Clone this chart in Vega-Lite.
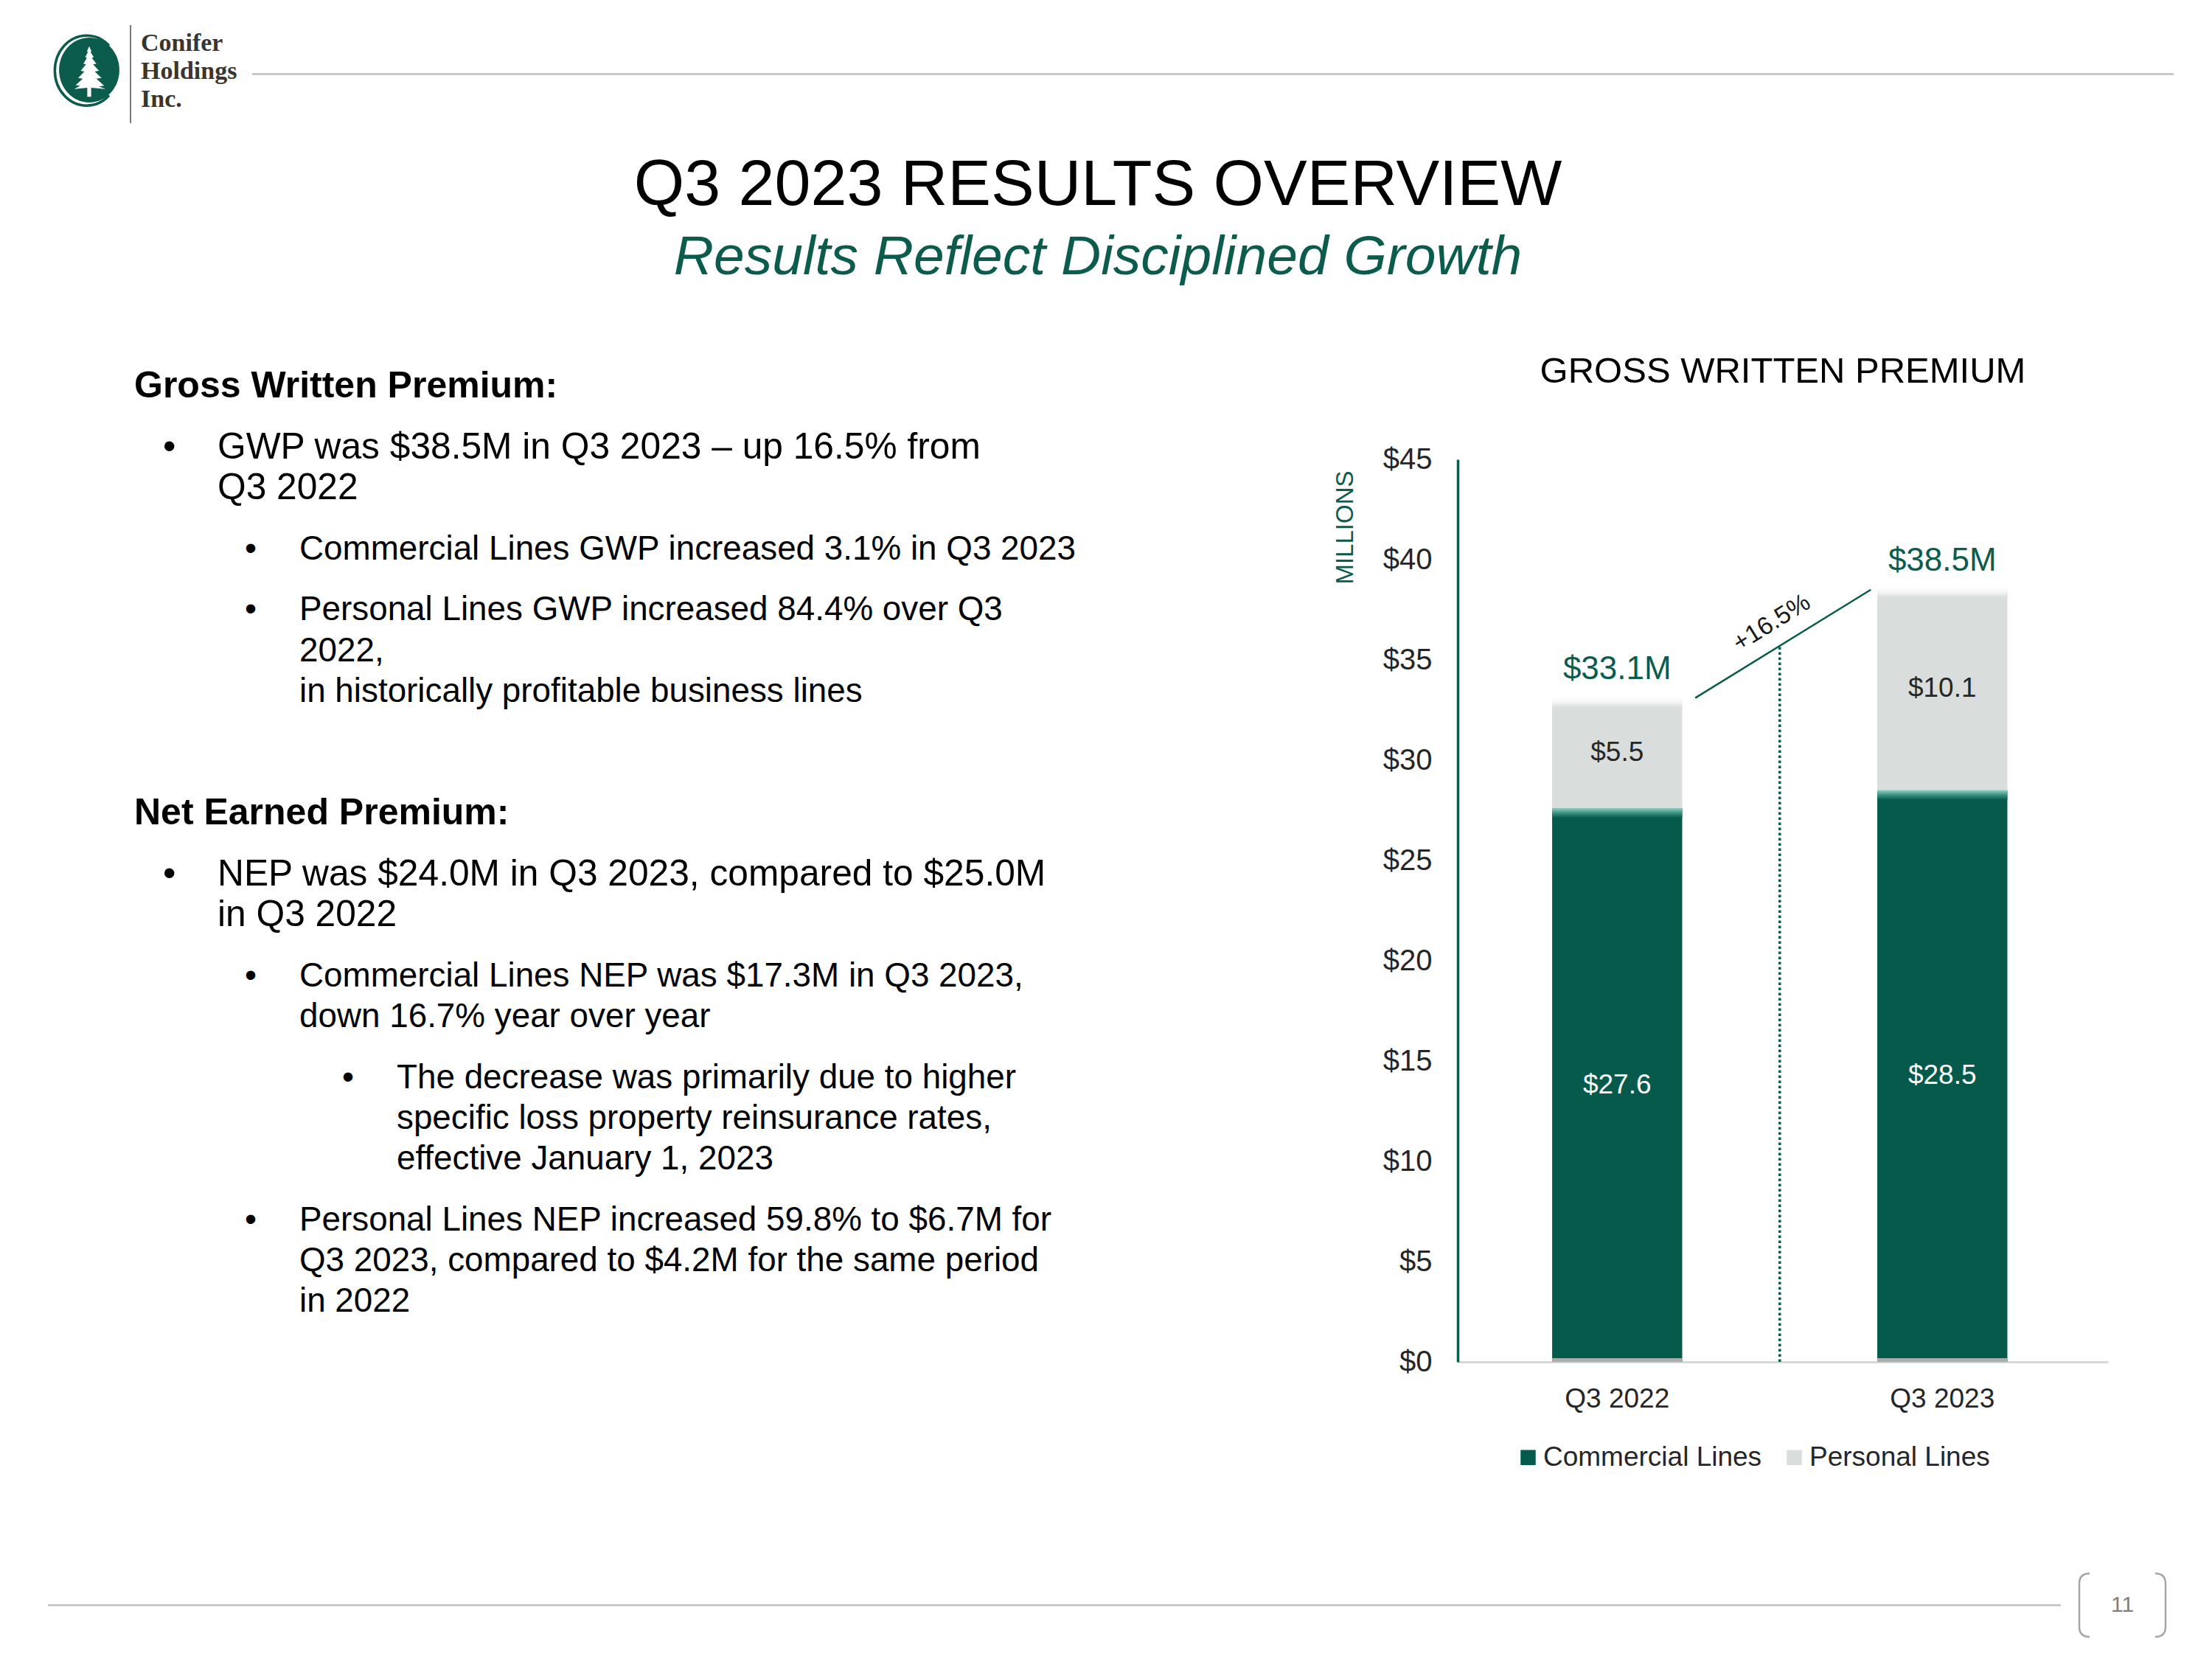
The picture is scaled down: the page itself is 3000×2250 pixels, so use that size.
{
  "$schema": "https://vega.github.io/schema/vega-lite/v6.json",
  "background": "white",
  "padding": {"left": 63, "top": 33, "right": 20, "bottom": 20},
  "config": {"view": {"stroke": null}, "font": "Liberation Sans"},
  "datasets": {
    "brand": [{"company": "Conifer\nHoldings\nInc."}],
    "notes": [
      {"row": 0, "level": 0, "bullet": false, "text": "Gross Written Premium:"},
      {"row": 3, "level": 1, "bullet": true, "text": "GWP was $38.5M in Q3 2023 – up 16.5% from"},
      {"row": 5, "level": 1, "bullet": false, "text": "Q3 2022"},
      {"row": 8, "level": 2, "bullet": true, "text": "Commercial Lines GWP increased 3.1% in Q3 2023"},
      {"row": 11, "level": 2, "bullet": true, "text": "Personal Lines GWP increased 84.4% over Q3"},
      {"row": 13, "level": 2, "bullet": false, "text": "2022,"},
      {"row": 15, "level": 2, "bullet": false, "text": "in historically profitable business lines"},
      {"row": 21, "level": 0, "bullet": false, "text": "Net Earned Premium:"},
      {"row": 24, "level": 1, "bullet": true, "text": "NEP was $24.0M in Q3 2023, compared to $25.0M"},
      {"row": 26, "level": 1, "bullet": false, "text": "in Q3 2022"},
      {"row": 29, "level": 2, "bullet": true, "text": "Commercial Lines NEP was $17.3M in Q3 2023,"},
      {"row": 31, "level": 2, "bullet": false, "text": "down 16.7% year over year"},
      {"row": 34, "level": 3, "bullet": true, "text": "The decrease was primarily due to higher"},
      {"row": 36, "level": 3, "bullet": false, "text": "specific loss property reinsurance rates,"},
      {"row": 38, "level": 3, "bullet": false, "text": "effective January 1, 2023"},
      {"row": 41, "level": 2, "bullet": true, "text": "Personal Lines NEP increased 59.8% to $6.7M for"},
      {"row": 43, "level": 2, "bullet": false, "text": "Q3 2023, compared to $4.2M for the same period"},
      {"row": 45, "level": 2, "bullet": false, "text": "in 2022"}
    ],
    "gwp": [
      {"quarter": "Q3 2022", "line": "Commercial Lines", "premium": 27.6},
      {"quarter": "Q3 2022", "line": "Personal Lines", "premium": 5.5},
      {"quarter": "Q3 2023", "line": "Commercial Lines", "premium": 28.5},
      {"quarter": "Q3 2023", "line": "Personal Lines", "premium": 10.1}
    ],
    "totals": [
      {"quarter": "Q3 2022", "total": 33.1, "label": "$33.1M"},
      {"quarter": "Q3 2023", "total": 38.5, "label": "$38.5M"}
    ],
    "growth": [{"from": "Q3 2022", "to": "Q3 2023", "start": 33.1, "end": 38.5, "change": "+16.5%"}],
    "page": [{"page": "11"}]
  },
  "spacing": 93,
  "vconcat": [
    {
      "spacing": 0,
      "bounds": "flush",
      "hconcat": [
        {
          "width": 112,
          "height": 133,
          "data": {"name": "brand"},
          "layer": [
            {"mark": {"type": "point", "shape": "M0.613,-0.874A0.98,1.08,0,1,0,0.613,0.654", "size": 7744, "filled": false, "color": "#0b5c4c", "strokeWidth": 3.5, "opacity": 1}},
            {"mark": {"type": "point", "shape": "M0,-1.125A0.93,1,0,1,1,0,0.875A0.93,1,0,1,1,0,-1.125Z", "size": 7744, "filled": true, "color": "#0b5c4c", "opacity": 1}},
            {"mark": {"type": "point", "shape": "M0,-0.86L0.07,-0.7L0.04,-0.68L0.14,-0.52L0.08,-0.5L0.22,-0.32L0.12,-0.3L0.3,-0.1L0.17,-0.08L0.38,0.12L0.22,0.14L0.46,0.36L0.3,0.38L0.5,0.46L0.06,0.42L0.06,0.7L-0.06,0.7L-0.06,0.42L-0.46,0.46L-0.28,0.36L-0.42,0.34L-0.2,0.14L-0.34,0.12L-0.15,-0.08L-0.26,-0.1L-0.1,-0.3L-0.18,-0.32L-0.07,-0.5L-0.12,-0.52L-0.04,-0.68L-0.07,-0.7Z", "size": 7744, "filled": true, "color": "#ffffff", "opacity": 1}}
          ]
        },
        {
          "width": 165,
          "height": 133,
          "data": {"name": "brand"},
          "layer": [
            {
              "mark": {"type": "rule", "color": "#4d4d4d", "strokeWidth": 1.5},
              "encoding": {"x": {"datum": 0, "type": "quantitative", "scale": {"domain": [0, 1]}, "axis": null}}
            },
            {
              "mark": {"type": "text", "align": "left", "baseline": "middle", "dx": 14, "dy": -42, "font": "Liberation Serif", "fontWeight": "bold", "fontSize": 34, "lineHeight": 38, "lineBreak": "\n", "color": "#3b3530"},
              "encoding": {"x": {"datum": 0, "type": "quantitative"}, "text": {"field": "company"}}
            }
          ]
        },
        {
          "width": 2606,
          "height": 133,
          "data": {"name": "brand"},
          "title": {
            "text": "Q3 2023 RESULTS OVERVIEW",
            "subtitle": "Results Reflect Disciplined Growth",
            "orient": "bottom",
            "anchor": "middle",
            "frame": "group",
            "offset": 41,
            "dx": -156,
            "font": "Liberation Sans",
            "fontSize": 88,
            "fontWeight": "normal",
            "color": "#000000",
            "subtitleFont": "Liberation Sans",
            "subtitleFontSize": 75,
            "subtitleFontStyle": "italic",
            "subtitleColor": "#0b5c4c",
            "subtitlePadding": 17
          },
          "mark": {"type": "rule", "color": "#bfbfbf", "strokeWidth": 2.5},
          "encoding": {"y": {"datum": 0, "type": "quantitative", "scale": {"domain": [-1, 1]}, "axis": null}}
        }
      ]
    },
    {
      "spacing": 500,
      "bounds": "flush",
      "hconcat": [
        {
          "width": 1412,
          "height": 1413,
          "data": {"name": "notes"},
          "encoding": {
            "x": {"field": "level", "type": "quantitative", "scale": {"domain": [0, 1, 2, 3], "range": [117, 230, 341, 473], "nice": false, "zero": false}, "axis": null},
            "y": {"field": "row", "type": "quantitative", "scale": {"domain": [0, 45], "range": [-99, 1142], "nice": false, "zero": false}, "axis": null}
          },
          "layer": [
            {
              "transform": [{"filter": "datum.level == 0"}],
              "mark": {"type": "text", "align": "left", "baseline": "middle", "fontWeight": "bold", "fontSize": 50, "color": "#000000"},
              "encoding": {"text": {"field": "text"}}
            },
            {
              "transform": [{"filter": "datum.level == 1"}],
              "mark": {"type": "text", "align": "left", "baseline": "middle", "fontSize": 49.7, "color": "#000000"},
              "encoding": {"text": {"field": "text"}}
            },
            {
              "transform": [{"filter": "datum.level >= 2"}],
              "mark": {"type": "text", "align": "left", "baseline": "middle", "fontSize": 45.8, "color": "#000000"},
              "encoding": {"text": {"field": "text"}}
            },
            {
              "transform": [{"filter": "datum.bullet && datum.level == 1"}],
              "mark": {"type": "text", "align": "left", "baseline": "middle", "dx": -74, "fontSize": 49.7, "color": "#000000"},
              "encoding": {"text": {"value": "•"}}
            },
            {
              "transform": [{"filter": "datum.bullet && datum.level >= 2"}],
              "mark": {"type": "text", "align": "left", "baseline": "middle", "dx": -74, "fontSize": 45.8, "color": "#000000"},
              "encoding": {"text": {"value": "•"}}
            }
          ]
        },
        {
          "width": 882,
          "height": 1224,
          "title": {"text": "GROSS WRITTEN PREMIUM", "font": "Liberation Sans", "fontSize": 49, "fontWeight": "normal", "color": "#000000", "anchor": "middle", "offset": 74},
          "layer": [
            {
              "data": {"name": "gwp"},
              "transform": [{"stack": "premium", "groupby": ["quarter"], "sort": [{"field": "line", "order": "ascending"}], "as": ["p0", "p1"]}],
              "mark": {"type": "bar"},
              "encoding": {
                "x": {
                  "field": "quarter",
                  "type": "nominal",
                  "scale": {"paddingInner": 0.6, "paddingOuter": 0.3, "align": 0.484},
                  "axis": {"title": null, "labelAngle": 0, "ticks": false, "domainColor": "#d0d0d0", "domainWidth": 2.5, "labelFontSize": 37, "labelColor": "#262626", "labelPadding": 32}
                },
                "y": {
                  "field": "p0",
                  "type": "quantitative",
                  "scale": {"domain": [0, 45], "nice": false},
                  "axis": {
                    "title": "MILLIONS",
                    "values": [0, 5, 10, 15, 20, 25, 30, 35, 40, 45],
                    "labelExpr": "'$' + datum.value",
                    "grid": false,
                    "ticks": false,
                    "domainColor": "#0b5c4c",
                    "domainWidth": 3.5,
                    "labelFontSize": 40,
                    "labelColor": "#262626",
                    "labelPadding": 35,
                    "titleColor": "#0b5c4c",
                    "titleFontSize": 33,
                    "titleFontWeight": "normal",
                    "titleAnchor": "end",
                    "titleAlign": "right",
                    "titleY": 15,
                    "titlePadding": 34
                  }
                },
                "y2": {"field": "p1"},
                "color": {
                  "field": "line",
                  "type": "nominal",
                  "scale": {"domain": ["Commercial Lines", "Personal Lines"], "range": ["#055a4c", "#d9dedc"]},
                  "legend": {
                    "orient": "none",
                    "legendX": 1989,
                    "legendY": 1924,
                    "direction": "horizontal",
                    "title": null,
                    "padding": 0,
                    "symbolType": "square",
                    "symbolSize": 420,
                    "symbolStrokeWidth": 0,
                    "symbolOpacity": 1,
                    "labelFontSize": 37,
                    "labelColor": "#262626",
                    "labelOffset": 2,
                    "labelLimit": 0,
                    "columnPadding": 25
                  }
                }
              }
            },
            {
              "data": {"name": "gwp"},
              "transform": [{"stack": "premium", "groupby": ["quarter"], "sort": [{"field": "line", "order": "ascending"}], "as": ["p0", "p1"]}],
              "mark": {"type": "rect", "y2Offset": 13},
              "encoding": {
                "x": {"field": "quarter", "type": "nominal"},
                "y": {"field": "p1", "type": "quantitative"},
                "y2": {"field": "p1"},
                "color": {
                  "condition": {
                    "test": "datum.line === 'Commercial Lines'",
                    "value": {"gradient": "linear", "x1": 0, "y1": 0, "x2": 0, "y2": 1, "stops": [{"offset": 0, "color": "#8fd0c0"}, {"offset": 0.45, "color": "#3f9684"}, {"offset": 1, "color": "#055a4c"}]}
                  },
                  "value": {"gradient": "linear", "x1": 0, "y1": 0, "x2": 0, "y2": 1, "stops": [{"offset": 0, "color": "#ffffff"}, {"offset": 0.5, "color": "#f2f4f3"}, {"offset": 1, "color": "#d9dedc"}]}
                }
              }
            },
            {
              "data": {"name": "gwp"},
              "transform": [
                {"filter": "datum.line === 'Personal Lines'"},
                {"stack": "premium", "groupby": ["quarter"], "as": ["s0", "s1"]}
              ],
              "mark": {"type": "rect", "yOffset": -5, "color": "#a9adac"},
              "encoding": {
                "x": {"field": "quarter", "type": "nominal"},
                "y": {"field": "s0", "type": "quantitative"},
                "y2": {"field": "s0"}
              }
            },
            {
              "data": {"name": "gwp"},
              "transform": [
                {"stack": "premium", "groupby": ["quarter"], "sort": [{"field": "line", "order": "ascending"}], "as": ["p0", "p1"]},
                {"fold": ["p0", "p1"], "as": ["edge", "bound"]}
              ],
              "mark": {"type": "text", "fontSize": 37, "baseline": "middle"},
              "encoding": {
                "x": {"field": "quarter", "type": "nominal"},
                "y": {"aggregate": "mean", "field": "bound", "type": "quantitative"},
                "detail": {"field": "line", "type": "nominal"},
                "text": {"field": "premium", "type": "quantitative", "format": "$.1f"},
                "color": {"condition": {"test": "datum.line === 'Commercial Lines'", "value": "#ffffff"}, "value": "#262626"}
              }
            },
            {
              "data": {"name": "totals"},
              "mark": {"type": "text", "fontSize": 44, "color": "#0b5c4c", "baseline": "alphabetic", "dy": -26},
              "encoding": {
                "x": {"field": "quarter", "type": "nominal"},
                "y": {"field": "total", "type": "quantitative"},
                "text": {"field": "label"}
              }
            },
            {
              "data": {"name": "growth"},
              "mark": {"type": "rule", "color": "#0b5c4c", "strokeWidth": 2.5},
              "encoding": {
                "x": {"field": "from", "type": "nominal", "bandPosition": 1.1},
                "x2": {"field": "to", "bandPosition": -0.05},
                "y": {"field": "start", "type": "quantitative"},
                "y2": {"field": "end"}
              }
            },
            {
              "data": {"name": "growth"},
              "transform": [{"fold": ["start", "end"], "as": ["point", "value"]}],
              "mark": {"type": "text", "angle": -32, "fontSize": 34, "color": "#1a1a1a", "baseline": "middle", "align": "center", "dx": 2, "dy": -32},
              "encoding": {
                "x": {"field": "from", "type": "nominal", "bandPosition": 1.775},
                "y": {"aggregate": "mean", "field": "value", "type": "quantitative"},
                "text": {"field": "change"}
              }
            },
            {
              "data": {"name": "growth"},
              "mark": {"type": "rule", "color": "#0b5c4c", "strokeWidth": 3.5, "strokeDash": [3.5, 3.5]},
              "encoding": {
                "x": {"field": "from", "type": "nominal", "bandPosition": 1.75},
                "y": {"datum": 0, "type": "quantitative"},
                "y2": {"datum": 35.7}
              }
            }
          ]
        }
      ]
    },
    {
      "spacing": 25,
      "bounds": "flush",
      "hconcat": [
        {
          "width": 2730,
          "height": 86,
          "data": {"name": "page"},
          "mark": {"type": "rule", "color": "#bfbfbf", "strokeWidth": 2.5},
          "encoding": {"y": {"datum": 0, "type": "quantitative", "scale": {"domain": [-1, 1]}, "axis": null}}
        },
        {
          "width": 117,
          "height": 86,
          "data": {"name": "page"},
          "layer": [
            {"mark": {"type": "point", "shape": "M-0.76,-0.735Q-1,-0.735,-1,-0.5L-1,0.5Q-1,0.735,-0.76,0.735M0.76,-0.735Q1,-0.735,1,-0.5L1,0.5Q1,0.735,0.76,0.735", "size": 13689, "filled": false, "color": "#a6a6a6", "strokeWidth": 2.5, "opacity": 1}},
            {"mark": {"type": "text", "fontSize": 30, "color": "#7f7f7f", "baseline": "middle"}, "encoding": {"text": {"field": "page"}}}
          ]
        }
      ]
    }
  ]
}
